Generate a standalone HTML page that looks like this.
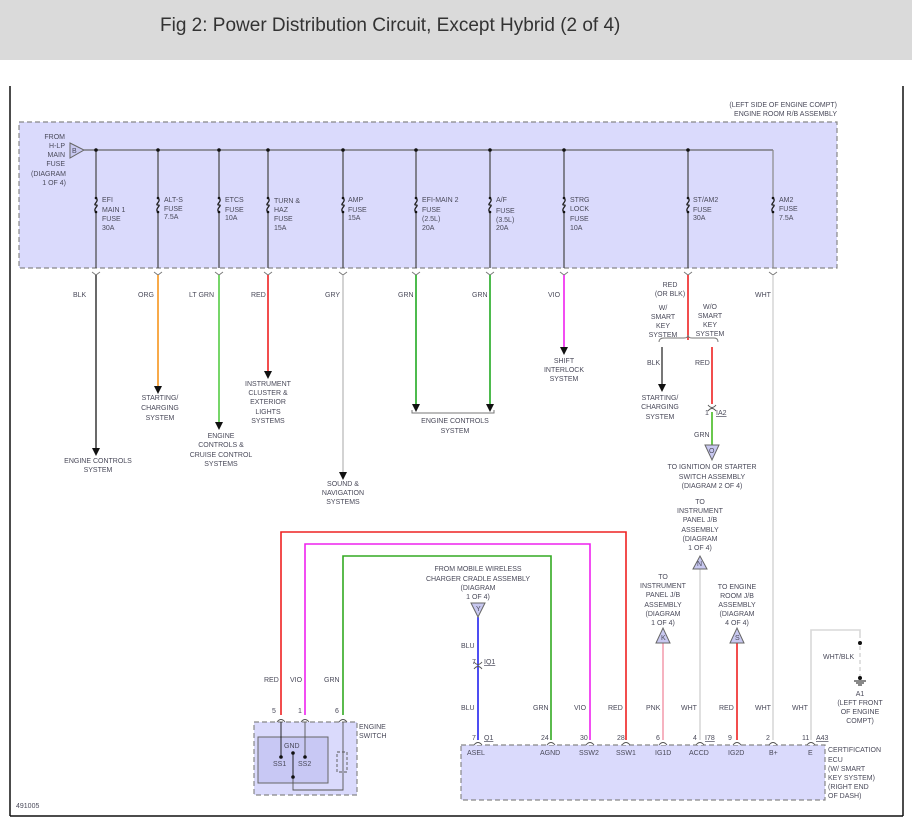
<!DOCTYPE html>
<html><head><meta charset="utf-8"><style>
html,body{margin:0;padding:0;background:#fff;width:912px;height:834px;overflow:hidden}
svg text{font-family:"Liberation Sans",sans-serif;font-size:7px;fill:#4a4a5a}
</style></head><body>
<svg width="912" height="834" xmlns="http://www.w3.org/2000/svg">
<defs>
<g id="f"><rect x="-3" y="-8" width="6" height="16" fill="#dadafc" stroke="none"/><path d="M0,-7 C4,-4 -4,0 0,0 C4,0 -4,4 0,7" fill="none" stroke="#222" stroke-width="1.3"/><circle cx="0" cy="-7" r="1.3" fill="#111"/><circle cx="0" cy="7" r="1.3" fill="#111"/></g>
</defs>
<rect x="0" y="0" width="912" height="60" fill="#dadada"/>
<text x="160" y="31" style="font-size:19px;fill:#333">Fig 2: Power Distribution Circuit, Except Hybrid (2 of 4)</text>
<line x1="10" y1="86" x2="10" y2="816" stroke="#111" stroke-width="1.5"/>
<line x1="903" y1="86" x2="903" y2="816" stroke="#111" stroke-width="1.5"/>
<line x1="10" y1="816" x2="903" y2="816" stroke="#111" stroke-width="1.5"/>
<text x="16" y="808">491005</text>

<rect x="19" y="122" width="818" height="146" fill="#dadafc" stroke="#888" stroke-width="1.2" stroke-dasharray="5,3"/>
<text x="837" y="107" text-anchor="end">(LEFT SIDE OF ENGINE COMPT)</text>
<text x="837" y="116" text-anchor="end">ENGINE ROOM R/B ASSEMBLY</text>
<g text-anchor="end"><text x="65" y="139">FROM</text><text x="65" y="148">H-LP</text><text x="65" y="157">MAIN</text><text x="65" y="166">FUSE</text><text x="66" y="176">(DIAGRAM</text><text x="66" y="185">1 OF 4)</text></g>
<polygon points="70,143 84,150 70,158" fill="#c8c8f0" stroke="#666"/>
<text x="72" y="153">B</text>
<line x1="84" y1="150" x2="773" y2="150" stroke="#666" stroke-width="1.3"/>
<g stroke="#444" stroke-width="1.2" fill="none">
<line x1="96" y1="150" x2="96" y2="268"/><line x1="158" y1="150" x2="158" y2="268"/><line x1="219" y1="150" x2="219" y2="268"/>
<line x1="268" y1="150" x2="268" y2="268"/><line x1="343" y1="150" x2="343" y2="268"/><line x1="416" y1="150" x2="416" y2="268"/>
<line x1="490" y1="150" x2="490" y2="268"/><line x1="564" y1="150" x2="564" y2="268"/><line x1="688" y1="150" x2="688" y2="268"/>
<line x1="773" y1="150" x2="773" y2="268" stroke="#888"/>
</g>
<g fill="#111">
<circle cx="96" cy="150" r="1.8"/><circle cx="158" cy="150" r="1.8"/><circle cx="219" cy="150" r="1.8"/><circle cx="268" cy="150" r="1.8"/><circle cx="343" cy="150" r="1.8"/><circle cx="416" cy="150" r="1.8"/><circle cx="490" cy="150" r="1.8"/><circle cx="564" cy="150" r="1.8"/><circle cx="688" cy="150" r="1.8"/>
</g>
<use href="#f" x="96" y="205"/><use href="#f" x="158" y="205"/><use href="#f" x="219" y="205"/><use href="#f" x="268" y="205"/><use href="#f" x="343" y="205"/><use href="#f" x="416" y="205"/><use href="#f" x="490" y="205"/><use href="#f" x="564" y="205"/><use href="#f" x="688" y="205"/><use href="#f" x="773" y="205"/>
<text x="102" y="202">EFI</text><text x="102" y="212">MAIN 1</text><text x="102" y="221">FUSE</text><text x="102" y="230">30A</text>
<text x="164" y="202">ALT-S</text><text x="164" y="211">FUSE</text><text x="164" y="219">7.5A</text>
<text x="225" y="202">ETCS</text><text x="225" y="212">FUSE</text><text x="225" y="220">10A</text>
<text x="274" y="203">TURN &amp;</text><text x="274" y="212">HAZ</text><text x="274" y="221">FUSE</text><text x="274" y="230">15A</text>
<text x="348" y="202">AMP</text><text x="348" y="212">FUSE</text><text x="348" y="220">15A</text>
<text x="422" y="202">EFI-MAIN 2</text><text x="422" y="212">FUSE</text><text x="422" y="221">(2.5L)</text><text x="422" y="230">20A</text>
<text x="496" y="202">A/F</text><text x="496" y="213">FUSE</text><text x="496" y="222">(3.5L)</text><text x="496" y="230">20A</text>
<text x="570" y="202">STRG</text><text x="570" y="211">LOCK</text><text x="570" y="221">FUSE</text><text x="570" y="230">10A</text>
<text x="693" y="202">ST/AM2</text><text x="693" y="212">FUSE</text><text x="693" y="220">30A</text>
<text x="779" y="202">AM2</text><text x="779" y="211">FUSE</text><text x="779" y="220">7.5A</text>

<g stroke="#777" fill="none" stroke-width="0.9">
<path d="M92,272 L96,275 L100,272 M154,272 L158,275 L162,272 M215,272 L219,275 L223,272 M264,272 L268,275 L272,272 M339,272 L343,275 L347,272 M412,272 L416,275 L420,272 M486,272 L490,275 L494,272 M560,272 L564,275 L568,272 M684,272 L688,275 L692,272 M769,272 L773,275 L777,272"/>
</g>
<g stroke-width="1.6" fill="none">
<line x1="96" y1="275" x2="96" y2="448" stroke="#444"/>
<line x1="158" y1="275" x2="158" y2="386" stroke="#f7941d"/>
<line x1="219" y1="275" x2="219" y2="422" stroke="#55cc44"/>
<line x1="268" y1="275" x2="268" y2="371" stroke="#ee2222"/>
<line x1="343" y1="275" x2="343" y2="472" stroke="#c8c8c8"/>
<line x1="416" y1="275" x2="416" y2="404" stroke="#22aa22"/>
<line x1="490" y1="275" x2="490" y2="404" stroke="#22aa22"/>
<line x1="564" y1="275" x2="564" y2="347" stroke="#ee22ee"/>
<line x1="688" y1="275" x2="688" y2="340" stroke="#ee2222"/>
<line x1="773" y1="275" x2="773" y2="740" stroke="#d8d8d8"/>
<line x1="662" y1="347" x2="662" y2="384" stroke="#555"/>
<line x1="712" y1="347" x2="712" y2="404" stroke="#ee2222"/>
<line x1="712" y1="412" x2="712" y2="445" stroke="#44bb22"/>
</g>
<g fill="#111">
<polygon points="92,448 100,448 96,456"/><polygon points="154,386 162,386 158,394"/><polygon points="215,422 223,422 219,430"/><polygon points="264,371 272,371 268,379"/><polygon points="339,472 347,472 343,480"/><polygon points="412,404 420,404 416,412"/><polygon points="486,404 494,404 490,412"/><polygon points="560,347 568,347 564,355"/><polygon points="658,384 666,384 662,392"/>
</g>
<path d="M412,410 L412,413 L494,413 L494,410" stroke="#777" fill="none"/>
<text x="73" y="297">BLK</text><text x="138" y="297">ORG</text><text x="189" y="297">LT GRN</text><text x="251" y="297">RED</text><text x="325" y="297">GRY</text><text x="398" y="297">GRN</text><text x="472" y="297">GRN</text><text x="548" y="297">VIO</text><text x="755" y="297">WHT</text>
<g text-anchor="middle">
<text x="98" y="463">ENGINE CONTROLS</text><text x="98" y="472">SYSTEM</text>
<text x="160" y="400">STARTING/</text><text x="160" y="410">CHARGING</text><text x="160" y="420">SYSTEM</text>
<text x="221" y="438">ENGINE</text><text x="221" y="447">CONTROLS &amp;</text><text x="221" y="457">CRUISE CONTROL</text><text x="221" y="466">SYSTEMS</text>
<text x="268" y="386">INSTRUMENT</text><text x="268" y="395">CLUSTER &amp;</text><text x="268" y="404">EXTERIOR</text><text x="268" y="414">LIGHTS</text><text x="268" y="423">SYSTEMS</text>
<text x="343" y="486">SOUND &amp;</text><text x="343" y="495">NAVIGATION</text><text x="343" y="504">SYSTEMS</text>
<text x="455" y="423">ENGINE CONTROLS</text><text x="455" y="433">SYSTEM</text>
<text x="564" y="363">SHIFT</text><text x="564" y="372">INTERLOCK</text><text x="564" y="381">SYSTEM</text>
<text x="670" y="287">RED</text><text x="670" y="296">(OR BLK)</text>
<text x="663" y="310">W/</text><text x="663" y="319">SMART</text><text x="663" y="328">KEY</text><text x="663" y="337">SYSTEM</text>
<text x="710" y="309">W/O</text><text x="710" y="318">SMART</text><text x="710" y="327">KEY</text><text x="710" y="336">SYSTEM</text>
<text x="660" y="400">STARTING/</text><text x="660" y="409">CHARGING</text><text x="660" y="419">SYSTEM</text>
<text x="712" y="469">TO IGNITION OR STARTER</text><text x="712" y="479">SWITCH ASSEMBLY</text><text x="712" y="488">(DIAGRAM 2 OF 4)</text>
<text x="700" y="504">TO</text><text x="700" y="513">INSTRUMENT</text><text x="700" y="522">PANEL J/B</text><text x="700" y="532">ASSEMBLY</text><text x="700" y="541">(DIAGRAM</text><text x="700" y="550">1 OF 4)</text>
<text x="478" y="571">FROM MOBILE WIRELESS</text><text x="478" y="581">CHARGER CRADLE ASSEMBLY</text><text x="478" y="590">(DIAGRAM</text><text x="478" y="599">1 OF 4)</text>
<text x="663" y="579">TO</text><text x="663" y="588">INSTRUMENT</text><text x="663" y="597">PANEL J/B</text><text x="663" y="607">ASSEMBLY</text><text x="663" y="616">(DIAGRAM</text><text x="663" y="625">1 OF 4)</text>
<text x="737" y="589">TO ENGINE</text><text x="737" y="598">ROOM J/B</text><text x="737" y="607">ASSEMBLY</text><text x="737" y="616">(DIAGRAM</text><text x="737" y="625">4 OF 4)</text>
<text x="860" y="696">A1</text><text x="860" y="705">(LEFT FRONT</text><text x="860" y="714">OF ENGINE</text><text x="860" y="723">COMPT)</text>
</g>
<path d="M659,342 Q659,338 664,338 L684,338 Q688,338 688,335 Q688,338 692,338 L714,338 Q718,338 718,342" stroke="#777" fill="none"/>
<text x="647" y="365">BLK</text><text x="695" y="365">RED</text>
<path d="M708,405 Q712,410 716,405 M708,411 Q712,406 716,411" stroke="#555" fill="none"/>
<text x="705" y="415">1</text><text x="716" y="415" style="text-decoration:underline">IA2</text>
<text x="694" y="437">GRN</text>
<polygon points="705,445 719,445 712,460" fill="#c8c8f0" stroke="#666"/><text x="709" y="453">O</text>

<g stroke-width="1.6" fill="none">
<polyline points="626,740 626,532 281,532 281,715" stroke="#ee2222"/>
<polyline points="590,740 590,544 305,544 305,715" stroke="#ee22ee"/>
<polyline points="551,740 551,556 343,556 343,715" stroke="#33aa22"/>
<line x1="478" y1="617" x2="478" y2="740" stroke="#2222ee"/>
<line x1="663" y1="643" x2="663" y2="740" stroke="#f4a0b0"/>
<line x1="700" y1="569" x2="700" y2="740" stroke="#d8d8d8"/>
<line x1="737" y1="643" x2="737" y2="740" stroke="#ee2222"/>
<polyline points="811,740 811,630 860,630 860,638" stroke="#d8d8d8"/>
<line x1="860" y1="646" x2="860" y2="676" stroke="#d8d8d8" stroke-dasharray="4,3"/>
</g>
<circle cx="860" cy="643" r="2" fill="#111"/>
<circle cx="860" cy="678" r="2" fill="#111"/>
<path d="M854,681 h12 M856,683 h8 M858,685 h4" stroke="#111"/>
<text x="823" y="659">WHT/BLK</text>
<polygon points="471,603 485,603 478,617" fill="#c8c8f0" stroke="#666"/><text x="476" y="611">Y</text>
<polygon points="693,569 707,569 700,556" fill="#c8c8f0" stroke="#666"/><text x="697" y="566">N</text>
<polygon points="656,643 670,643 663,628" fill="#c8c8f0" stroke="#666"/><text x="661" y="640">K</text>
<polygon points="730,643 744,643 737,628" fill="#c8c8f0" stroke="#666"/><text x="735" y="640">S</text>
<path d="M474,662 Q478,667 482,662 M474,669 Q478,664 482,669" stroke="#555" fill="none"/>
<text x="472" y="664">7</text><text x="484" y="664" style="text-decoration:underline">IQ1</text>
<text x="461" y="648">BLU</text><text x="461" y="710">BLU</text>
<text x="533" y="710">GRN</text><text x="574" y="710">VIO</text><text x="608" y="710">RED</text><text x="646" y="710">PNK</text><text x="681" y="710">WHT</text><text x="719" y="710">RED</text><text x="755" y="710">WHT</text><text x="792" y="710">WHT</text>
<text x="264" y="682">RED</text><text x="290" y="682">VIO</text><text x="324" y="682">GRN</text>

<rect x="461" y="745" width="364" height="55" fill="#dadafc" stroke="#888" stroke-width="1.2" stroke-dasharray="5,3"/>
<g stroke="#555" fill="#fff" stroke-width="0.9">
<path d="M474,745 Q478,740 482,745 M547,745 Q551,740 555,745 M586,745 Q590,740 594,745 M622,745 Q626,740 630,745 M659,745 Q663,740 667,745 M696,745 Q700,740 704,745 M733,745 Q737,740 741,745 M769,745 Q773,740 777,745 M807,745 Q811,740 815,745"/>
</g>
<text x="472" y="740">7</text><text x="484" y="740" style="text-decoration:underline">Q1</text>
<text x="541" y="740">24</text><text x="580" y="740">30</text><text x="617" y="740">28</text><text x="656" y="740">6</text><text x="693" y="740">4</text><text x="705" y="740" style="text-decoration:underline">I78</text><text x="728" y="740">9</text><text x="766" y="740">2</text><text x="802" y="740">11</text><text x="816" y="740" style="text-decoration:underline">A43</text>
<text x="467" y="755">ASEL</text><text x="540" y="755">AGND</text><text x="579" y="755">SSW2</text><text x="616" y="755">SSW1</text><text x="655" y="755">IG1D</text><text x="689" y="755">ACCD</text><text x="728" y="755">IG2D</text><text x="769" y="755">B+</text><text x="808" y="755">E</text>
<text x="828" y="752">CERTIFICATION</text><text x="828" y="762">ECU</text><text x="828" y="771">(W/ SMART</text><text x="828" y="780">KEY SYSTEM)</text><text x="828" y="789">(RIGHT END</text><text x="828" y="798">OF DASH)</text>

<rect x="254" y="722" width="103" height="73" fill="#dadafc" stroke="#888" stroke-width="1.2" stroke-dasharray="5,3"/>
<rect x="258" y="737" width="70" height="46" fill="#c8c8f4" stroke="#666"/>
<g stroke="#555" fill="none" stroke-width="0.9">
<path d="M277,722 Q281,717 285,722 M301,722 Q305,717 309,722 M339,722 Q343,717 347,722"/>
<line x1="281" y1="722" x2="281" y2="757" stroke="#111"/>
<line x1="305" y1="722" x2="305" y2="757"/>
<polyline points="343,722 343,790 293,790 293,777"/>
<line x1="293" y1="753" x2="293" y2="777" stroke="#111"/>
<rect x="337" y="752" width="10" height="20" stroke-dasharray="3,2"/>
</g>
<circle cx="281" cy="757" r="1.8" fill="#111"/><circle cx="305" cy="757" r="1.8" fill="#111"/><circle cx="293" cy="753" r="1.8" fill="#111"/><circle cx="293" cy="777" r="1.8" fill="#111"/>
<text x="284" y="748">GND</text><text x="273" y="766">SS1</text><text x="298" y="766">SS2</text>
<text x="272" y="713">5</text><text x="298" y="713">1</text><text x="335" y="713">6</text>
<text x="359" y="729">ENGINE</text><text x="359" y="738">SWITCH</text>
</svg>
</body></html>
